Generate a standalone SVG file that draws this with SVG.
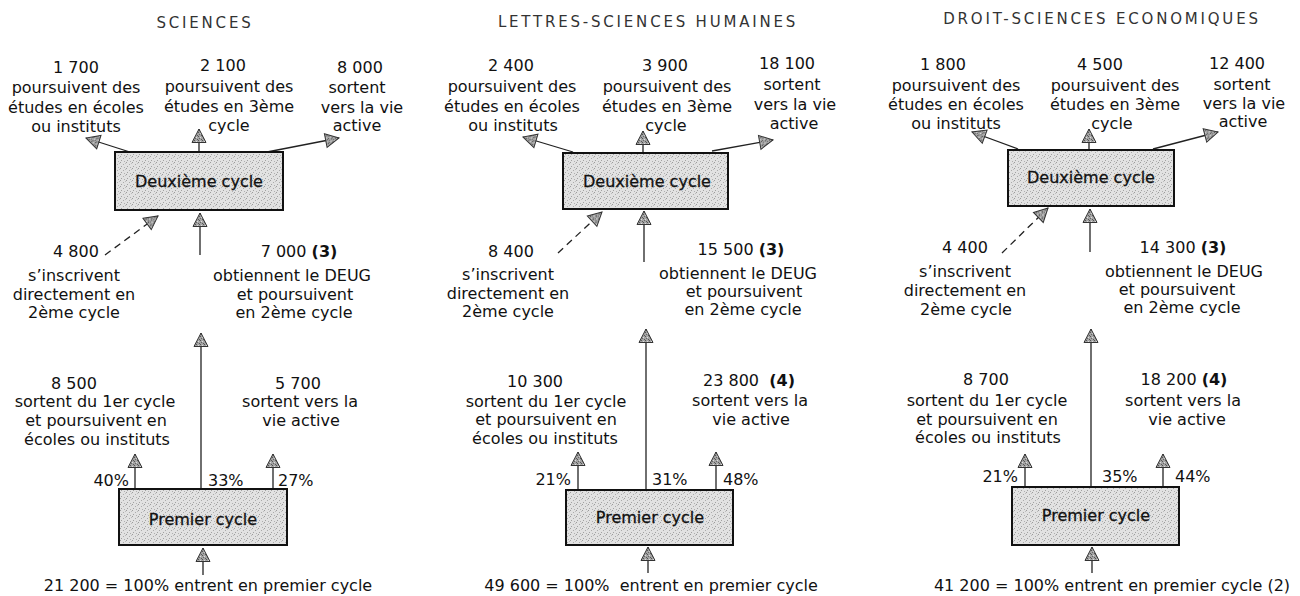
<svg xmlns="http://www.w3.org/2000/svg" width="1300" height="596" viewBox="0 0 1300 596">
<style>
text{font-family:"DejaVu Sans","Liberation Sans",sans-serif;font-size:16px;fill:#111;text-anchor:middle}
.ttl{font-size:15px;letter-spacing:2.8px;fill:#333}
.s{text-anchor:start}
.e{text-anchor:end}
.b{font-weight:bold}
.box{fill:url(#stip);stroke:#111;stroke-width:2}
.bt{stroke:#111;stroke-width:0.3}
.ln{fill:none;stroke:#222;stroke-width:1.3;marker-end:url(#ah)}
.dash{stroke-dasharray:7 5}
</style>
<defs>
<pattern id="stip" width="6" height="6" patternUnits="userSpaceOnUse">
<rect width="6" height="6" fill="#e2e2e2"/>
<rect x="0" y="0" width="1" height="1" fill="#9c9c9c"/>
<rect x="3" y="2" width="1" height="1" fill="#ababab"/>
<rect x="1" y="4" width="1" height="1" fill="#a2a2a2"/>
<rect x="4" y="5" width="1" height="1" fill="#b0b0b0"/>
<rect x="5" y="1" width="1" height="1" fill="#bdbdbd"/>
</pattern>
<pattern id="stipd" width="4" height="4" patternUnits="userSpaceOnUse">
<rect width="4" height="4" fill="#a4a4a4"/>
<rect x="0" y="0" width="1" height="1" fill="#555"/>
<rect x="2" y="1" width="1" height="1" fill="#666"/>
<rect x="1" y="3" width="1" height="1" fill="#5a5a5a"/>
<rect x="3" y="2" width="1" height="1" fill="#ddd"/>
</pattern>
<marker id="ah" viewBox="0 0 18 18" refX="16" refY="9" markerWidth="18" markerHeight="18" markerUnits="userSpaceOnUse" orient="auto">
<path d="M2.5,2 L16,9 L2.5,16 Z" fill="url(#stipd)" stroke="#333" stroke-width="1"/>
</marker>
</defs>

<g id="connectors">
<!-- panel 1 -->
<line class="ln" x1="133" y1="153" x2="86" y2="138"/>
<line class="ln" x1="199" y1="152" x2="199" y2="129"/>
<line class="ln" x1="267" y1="152" x2="339" y2="138"/>
<line class="ln dash" x1="105" y1="255" x2="158" y2="216"/>
<line class="ln" x1="200" y1="255" x2="200" y2="213"/>
<line class="ln" x1="201" y1="489" x2="201" y2="333"/>
<line class="ln" x1="135" y1="489" x2="135" y2="454"/>
<line class="ln" x1="273" y1="489" x2="273" y2="454"/>
<line class="ln" x1="203" y1="575" x2="203" y2="548"/>
<!-- panel 2 -->
<line class="ln" x1="573" y1="152" x2="523" y2="137"/>
<line class="ln" x1="643" y1="153" x2="643" y2="131"/>
<line class="ln" x1="712" y1="151" x2="773" y2="140"/>
<line class="ln dash" x1="558" y1="253" x2="602" y2="212"/>
<line class="ln" x1="644" y1="262" x2="644" y2="211"/>
<line class="ln" x1="646" y1="490" x2="646" y2="329"/>
<line class="ln" x1="578" y1="490" x2="578" y2="452"/>
<line class="ln" x1="716" y1="490" x2="716" y2="452"/>
<line class="ln" x1="648" y1="573" x2="648" y2="547"/>
<!-- panel 3 -->
<line class="ln" x1="1018" y1="149" x2="972" y2="132"/>
<line class="ln" x1="1089" y1="150" x2="1089" y2="129"/>
<line class="ln" x1="1153" y1="149" x2="1218" y2="132"/>
<line class="ln dash" x1="1002" y1="253" x2="1048" y2="208"/>
<line class="ln" x1="1090" y1="252" x2="1090" y2="209"/>
<line class="ln" x1="1091" y1="487" x2="1091" y2="329"/>
<line class="ln" x1="1025" y1="487" x2="1025" y2="454"/>
<line class="ln" x1="1163" y1="487" x2="1163" y2="454"/>
<line class="ln" x1="1092" y1="573" x2="1092" y2="547"/>
</g>

<!-- ===== Panel 1 : SCIENCES ===== -->
<g id="title-sciences"><text class="ttl" x="205" y="28">SCIENCES</text></g>
<g id="sci-out-ecoles">
<text x="76" y="73">1 700</text>
<text x="76" y="93">poursuivent des</text>
<text x="76" y="112.5">études en écoles</text>
<text x="76" y="132">ou instituts</text>
</g>
<g id="sci-out-3e">
<text x="223" y="71">2 100</text>
<text x="229" y="92">poursuivent des</text>
<text x="229" y="111.5">études en 3ème</text>
<text x="229" y="131">cycle</text>
</g>
<g id="sci-out-vie">
<text x="360" y="73">8 000</text>
<text x="357" y="93">sortent</text>
<text x="362" y="112.5">vers la vie</text>
<text x="357" y="131">active</text>
</g>
<g id="sci-deuxieme">
<rect class="box" x="115" y="152" width="168" height="58"/>
<text class="bt" x="199" y="187">Deuxième cycle</text>
</g>
<g id="sci-direct">
<text x="76" y="257">4 800</text>
<text x="74" y="281">s’inscrivent</text>
<text x="74" y="299.5">directement en</text>
<text x="74" y="318">2ème cycle</text>
</g>
<g id="sci-deug">
<text x="299" y="257">7 000 <tspan class="b">(3)</tspan></text>
<text x="292" y="281">obtiennent le DEUG</text>
<text x="295" y="299.5">et poursuivent</text>
<text x="294" y="318">en 2ème cycle</text>
</g>
<g id="sci-ecoles1">
<text x="74" y="389">8 500</text>
<text x="95" y="407">sortent du 1er cycle</text>
<text x="96" y="426">et poursuivent en</text>
<text x="97" y="445">écoles ou instituts</text>
</g>
<g id="sci-vie1">
<text x="298" y="389">5 700</text>
<text x="300" y="407">sortent vers la</text>
<text x="301" y="426">vie active</text>
</g>
<g id="sci-pct">
<text class="e" x="129" y="486">40%</text>
<text class="s" x="208" y="486">33%</text>
<text class="s" x="278" y="486">27%</text>
</g>
<g id="sci-premier">
<rect class="box" x="119" y="489" width="168" height="56"/>
<text class="bt" x="203" y="525">Premier cycle</text>
</g>
<g id="sci-entree"><text x="208" y="591">21 200 = 100% entrent en premier cycle</text></g>

<!-- ===== Panel 2 : LETTRES ===== -->
<g id="title-lettres"><text class="ttl" x="648" y="27">LETTRES-SCIENCES HUMAINES</text></g>
<g id="let-out-ecoles">
<text x="511" y="71">2 400</text>
<text x="512" y="92">poursuivent des</text>
<text x="512" y="111.5">études en écoles</text>
<text x="513" y="131">ou instituts</text>
</g>
<g id="let-out-3e">
<text x="665" y="71">3 900</text>
<text x="667" y="92">poursuivent des</text>
<text x="667" y="111.5">études en 3ème</text>
<text x="666" y="131">cycle</text>
</g>
<g id="let-out-vie">
<text x="787" y="69">18 100</text>
<text x="792" y="90">sortent</text>
<text x="795" y="110">vers la vie</text>
<text x="794" y="129">active</text>
</g>
<g id="let-deuxieme">
<rect class="box" x="563" y="153" width="165" height="56"/>
<text class="bt" x="647" y="187">Deuxième cycle</text>
</g>
<g id="let-direct">
<text x="511" y="257">8 400</text>
<text x="508" y="280">s’inscrivent</text>
<text x="508" y="298.5">directement en</text>
<text x="508" y="317">2ème cycle</text>
</g>
<g id="let-deug">
<text x="741" y="255">15 500 <tspan class="b">(3)</tspan></text>
<text x="738" y="278.5">obtiennent le DEUG</text>
<text x="744" y="297">et poursuivent</text>
<text x="743" y="315">en 2ème cycle</text>
</g>
<g id="let-ecoles1">
<text x="535" y="387">10 300</text>
<text x="546" y="407">sortent du 1er cycle</text>
<text x="546" y="425">et poursuivent en</text>
<text x="545" y="444">écoles ou instituts</text>
</g>
<g id="let-vie1">
<text x="749" y="386" xml:space="preserve">23 800  <tspan class="b">(4)</tspan></text>
<text x="750" y="406">sortent vers la</text>
<text x="751" y="425">vie active</text>
</g>
<g id="let-pct">
<text class="e" x="571" y="485">21%</text>
<text class="s" x="652" y="485">31%</text>
<text class="s" x="723" y="485">48%</text>
</g>
<g id="let-premier">
<rect class="box" x="566" y="490" width="167" height="55"/>
<text class="bt" x="650" y="523">Premier cycle</text>
</g>
<g id="let-entree"><text x="651" y="591" xml:space="preserve">49 600 = 100%  entrent en premier cycle</text></g>

<!-- ===== Panel 3 : DROIT ===== -->
<g id="title-droit"><text class="ttl" x="1102" y="24">DROIT-SCIENCES ECONOMIQUES</text></g>
<g id="dro-out-ecoles">
<text x="943" y="69.5">1 800</text>
<text x="956" y="90.7">poursuivent des</text>
<text x="956" y="110">études en écoles</text>
<text x="956" y="128.5">ou instituts</text>
</g>
<g id="dro-out-3e">
<text x="1100" y="69.5">4 500</text>
<text x="1115" y="90.7">poursuivent des</text>
<text x="1115" y="110">études en 3ème</text>
<text x="1112" y="128.5">cycle</text>
</g>
<g id="dro-out-vie">
<text x="1237" y="68.5">12 400</text>
<text x="1242" y="90">sortent</text>
<text x="1244" y="108.5">vers la vie</text>
<text x="1243" y="127">active</text>
</g>
<g id="dro-deuxieme">
<rect class="box" x="1008" y="150" width="166" height="56"/>
<text class="bt" x="1091" y="183">Deuxième cycle</text>
</g>
<g id="dro-direct">
<text x="965" y="253">4 400</text>
<text x="965" y="277">s’inscrivent</text>
<text x="965" y="296">directement en</text>
<text x="966" y="315">2ème cycle</text>
</g>
<g id="dro-deug">
<text x="1183" y="253">14 300 <tspan class="b">(3)</tspan></text>
<text x="1184" y="277">obtiennent le DEUG</text>
<text x="1177" y="295">et poursuivent</text>
<text x="1182" y="313">en 2ème cycle</text>
</g>
<g id="dro-ecoles1">
<text x="986" y="385">8 700</text>
<text x="987" y="406">sortent du 1er cycle</text>
<text x="987" y="425">et poursuivent en</text>
<text x="988" y="443">écoles ou instituts</text>
</g>
<g id="dro-vie1">
<text x="1184" y="385">18 200 <tspan class="b">(4)</tspan></text>
<text x="1183" y="406">sortent vers la</text>
<text x="1187" y="425">vie active</text>
</g>
<g id="dro-pct">
<text class="e" x="1018" y="482">21%</text>
<text class="s" x="1102" y="482">35%</text>
<text class="s" x="1175" y="482">44%</text>
</g>
<g id="dro-premier">
<rect class="box" x="1012" y="487" width="167" height="58"/>
<text class="bt" x="1096" y="521">Premier cycle</text>
</g>
<g id="dro-entree"><text x="1112" y="591">41 200 = 100% entrent en premier cycle (2)</text></g>
</svg>
